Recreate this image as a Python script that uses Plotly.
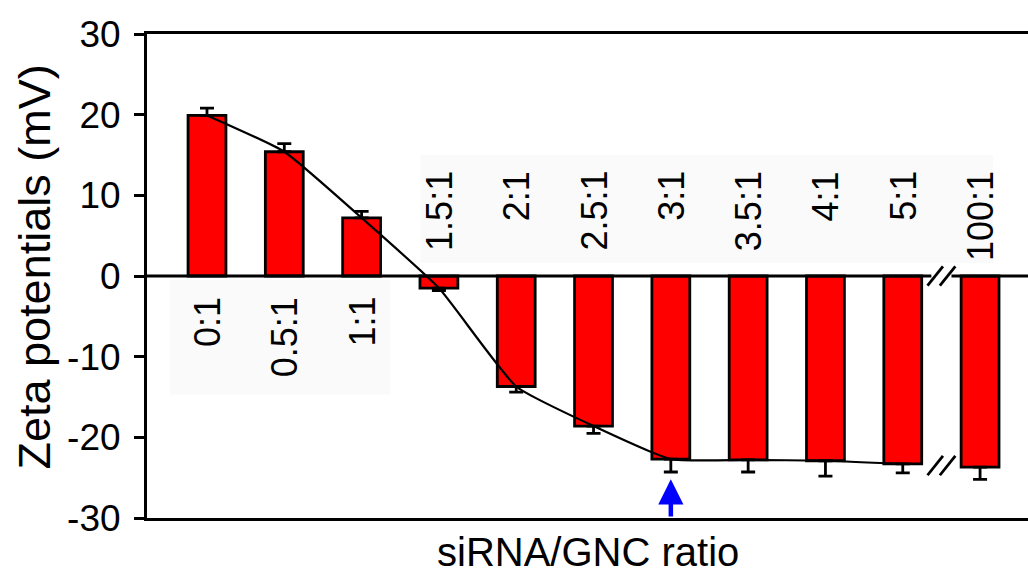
import plotly.graph_objects as go

# siRNA / GNC ratios and measured zeta potentials (mV)
ratios = ["0:1", "0.5:1", "1:1", "1.5:1", "2:1", "2.5:1", "3:1", "3.5:1", "4:1", "5:1", "100:1"]
zeta = [19.9, 15.4, 7.2, -1.5, -13.7, -18.6, -22.7, -22.8, -22.9, -23.3, -23.7]
zeta_sd = [0.9, 1.0, 0.8, 0.3, 0.7, 0.9, 1.6, 1.5, 1.9, 1.1, 1.5]
y_ticks = [-30, -20, -10, 0, 10, 20, 30]
y_tick_text = ["-30", "-20", "-10", "0", "10", "20", "30"]

# index of the ratio picked out by the arrow, and of the last point on the trend curve
highlight = ratios.index("3:1")
trend_end = ratios.index("5:1")

FONT = "Liberation Sans, Arial, sans-serif"
idx = list(range(len(ratios)))

# error bars extend away from zero only
err_up = [e if v >= 0 else 0 for v, e in zip(zeta, zeta_sd)]
err_dn = [0 if v >= 0 else e for v, e in zip(zeta, zeta_sd)]

fig = go.Figure()
fig.add_trace(go.Bar(
    x=idx, y=zeta, width=0.49,
    marker=dict(color="#FF0000", line=dict(color="black", width=2.8)),
    error_y=dict(type="data", symmetric=False, array=err_up, arrayminus=err_dn,
                 color="black", thickness=2.8, width=7),
    showlegend=False, hoverinfo="skip",
))
fig.add_trace(go.Scatter(
    x=idx[:trend_end + 1], y=zeta[:trend_end + 1], mode="lines",
    line=dict(color="black", width=2.2, shape="spline", smoothing=0.45),
    showlegend=False, hoverinfo="skip",
))

shapes = []
# faint panels behind the ratio labels
shapes.append(dict(type="rect", xref="x", yref="y", x0=-0.48, x1=2.37, y0=-14.7, y1=-0.5,
                   fillcolor="#fafafa", line=dict(width=0), layer="below"))
shapes.append(dict(type="rect", xref="x", yref="y", x0=2.76, x1=10.17, y0=1.6, y1=15.0,
                   fillcolor="#fafafa", line=dict(width=0), layer="below"))

# zero line, interrupted at the axis break between 5:1 and 100:1
brk = (trend_end + len(ratios) - 1) / 2.0
shapes.append(dict(type="line", xref="x", yref="y", x0=-0.776, x1=brk - 0.13, y0=0, y1=0,
                   line=dict(color="black", width=2.8)))
shapes.append(dict(type="line", xref="x", yref="y", x0=brk + 0.13, x1=10.62, y0=0, y1=0,
                   line=dict(color="black", width=2.8)))


def break_marks(yc):
    out = []
    for dx in (-0.08, 0.08):
        out.append(dict(type="line", xref="x", yref="y",
                        x0=brk + dx - 0.1, x1=brk + dx + 0.1, y0=yc - 1.2, y1=yc + 1.2,
                        line=dict(color="black", width=2.8)))
    return out


shapes += break_marks(0)
shapes += break_marks((zeta[trend_end] + zeta[-1]) / 2.0)

annotations = []
for i, lab in enumerate(ratios):
    shift = -19 if zeta[i] >= 0 else 107
    annotations.append(dict(x=i, y=0, xref="x", yref="y", text=lab, showarrow=False,
                            textangle=-90, xanchor="center", yanchor="top", yshift=shift,
                            font=dict(family=FONT, size=36, color="black")))

# blue arrow under the selected ratio
tip = zeta[highlight] - zeta_sd[highlight] - 0.9
annotations.append(dict(x=highlight, y=tip, xref="x", yref="y",
                        ax=highlight, ay=-30, axref="x", ayref="y",
                        text="", showarrow=True, arrowhead=2, arrowsize=1.12,
                        arrowwidth=4.5, arrowcolor="#0000FF"))

# axis titles
annotations.append(dict(x=0.5, y=0, xref="paper", yref="paper", text="siRNA/GNC ratio",
                        showarrow=False, xanchor="center", yanchor="middle", yshift=-34,
                        font=dict(family=FONT, size=40, color="black")))
annotations.append(dict(x=0, y=0.5176, xref="paper", yref="paper", text="Zeta potentials (mV)",
                        showarrow=False, textangle=-90, xanchor="center", yanchor="middle",
                        xshift=-113, font=dict(family=FONT, size=45, color="black")))

fig.update_layout(
    width=1028, height=577,
    margin=dict(l=147, r=0, t=34, b=59),
    paper_bgcolor="white", plot_bgcolor="white",
    shapes=shapes, annotations=annotations,
    xaxis=dict(range=[-0.776, 10.62], showgrid=False, zeroline=False,
               showticklabels=False, ticks="", showline=True, mirror=True,
               linecolor="black", linewidth=3.2),
    yaxis=dict(range=[-30, 30], tickvals=y_ticks, ticktext=y_tick_text,
               showgrid=False, zeroline=False,
               ticks="outside", ticklen=10, tickwidth=2.8, tickcolor="black",
               showline=True, linecolor="black", linewidth=3,
               ticklabelstandoff=6,
               tickfont=dict(family=FONT, size=37, color="black")),
)

fig.write_html("out.html")
